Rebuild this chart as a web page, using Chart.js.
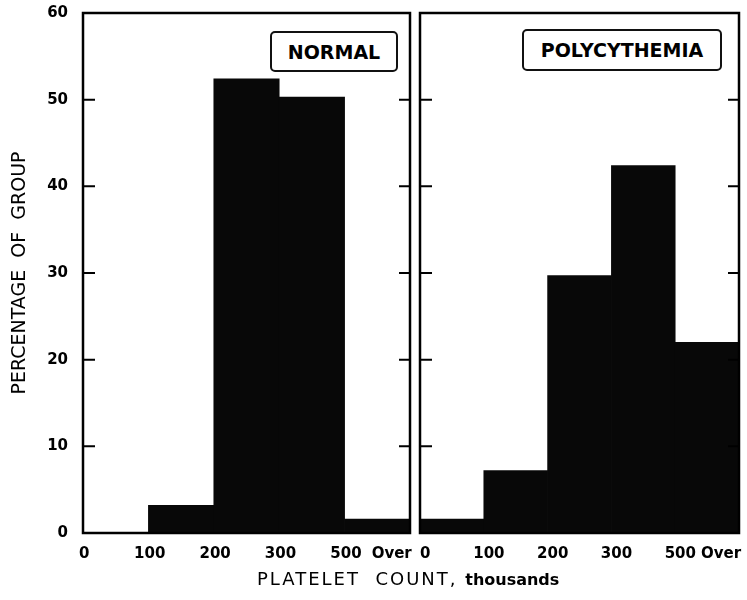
<!DOCTYPE html>
<html>
<head>
<meta charset="utf-8">
<script src="https://cdn.jsdelivr.net/npm/chart.js@4"></script>
<style>
  body { margin: 0; background: #fff; }
  #wrap { position: relative; width: 747px; height: 600px; overflow: hidden; font-family: "DejaVu Sans", sans-serif; color: #000; }
  #left { position: absolute; left: 0; top: 0; }
  #right { position: absolute; left: 400px; top: 0; }
  .tag { position: absolute; box-sizing: border-box; border: 2px solid #111; border-radius: 5px;
         display: flex; align-items: center; justify-content: center; font-size: 19px; font-weight: bold; background: #fff; }
  #tagNormal { left: 270px; top: 31px; width: 128px; height: 41px; }
  #tagPoly { left: 522px; top: 29px; width: 200px; height: 42px; }
  #xtitle { position: absolute; left: 257px; top: 568px; font-size: 18px; letter-spacing: 2px; white-space: pre; }
  #xtitle b { font-size: 16px; letter-spacing: 0; }
</style>
</head>
<body>
<div id="wrap">
  <canvas id="left" width="415" height="600"></canvas>
  <canvas id="right" width="347" height="600"></canvas>
  <div class="tag" id="tagNormal">NORMAL</div>
  <div class="tag" id="tagPoly">POLYCYTHEMIA</div>
  <div id="xtitle">PLATELET  COUNT, <b>thousands</b></div>
</div>
<script>
// platelet count bins (thousands)
const bins = ['0-100', '100-200', '200-300', '300-500', 'Over 500'];
// percentage of group per bin
const normal = [0, 3.2, 52.4, 50.3, 1.6];
const polycythemia = [1.6, 7.2, 29.7, 42.4, 22.0];
// tick labels sit on the bin edges, "Over" inside the last bin
const edgeLabels = ['0', '100', '200', '300', '500', 'Over'];
const edgePos = [0, 1, 2, 3, 4, 4.72];
const yMax = 60;
const yStep = 10;

const tickFont = { family: 'DejaVu Sans', size: 15, weight: 'bold' };

// box round each panel, with short inward ticks on both sides
const framePlugin = {
  id: 'frame',
  afterDatasetsDraw(chart) {
    const ctx = chart.ctx;
    const a = chart.chartArea;
    const y = chart.scales.y;
    ctx.save();
    ctx.strokeStyle = '#000';
    ctx.lineWidth = 2.5;
    ctx.strokeRect(a.left, a.top, a.right - a.left, a.bottom - a.top);
    ctx.lineWidth = 2;
    y.ticks.forEach(t => {
      if (t.value <= y.min || t.value >= y.max) return;
      const py = y.getPixelForValue(t.value);
      ctx.beginPath();
      ctx.moveTo(a.left, py);
      ctx.lineTo(a.left + 12, py);
      ctx.moveTo(a.right, py);
      ctx.lineTo(a.right - 11, py);
      ctx.stroke();
    });
    ctx.restore();
  }
};

function makePanel(canvasId, values, opts) {
  const ctx = document.getElementById(canvasId).getContext('2d');
  return new Chart(ctx, {
    type: 'bar',
    data: {
      labels: bins,
      datasets: [{
        data: values,
        backgroundColor: '#080808',
        borderWidth: 0,
        categoryPercentage: 1,
        barPercentage: 1
      }]
    },
    options: {
      responsive: false,
      devicePixelRatio: 1,
      animation: false,
      layout: { padding: { top: 13, right: opts.padRight, left: 0, bottom: 0 } },
      plugins: { legend: { display: false }, tooltip: { enabled: false } },
      scales: {
        x: { type: 'category', display: false },
        x2: {
          type: 'linear',
          position: 'bottom',
          offset: false,
          min: 0,
          max: bins.length,
          grid: { display: false, drawTicks: false, offset: false },
          border: { display: false },
          afterBuildTicks: s => { s.ticks = edgePos.map(v => ({ value: v < 4.5 ? v + opts.labelShift : v })); },
          ticks: {
            autoSkip: false,
            maxRotation: 0,
            padding: 12,
            color: '#000',
            font: tickFont,
            callback: (v, i) => edgeLabels[i]
          },
          afterFit: s => { s.height = 67; s.paddingLeft = 0; s.paddingRight = 0; }
        },
        y: {
          min: 0,
          max: yMax,
          grid: { display: false, drawTicks: false },
          border: { display: false },
          ticks: {
            display: opts.showY,
            stepSize: yStep,
            padding: 15,
            color: '#000',
            font: tickFont
          },
          title: {
            display: opts.showY,
            text: 'PERCENTAGE  OF  GROUP',
            color: '#000',
            font: { family: 'DejaVu Sans', size: 19 },
            padding: { top: 9, bottom: 0 }
          },
          afterFit: s => { s.width = opts.yWidth; s.paddingTop = 0; s.paddingBottom = 0; }
        }
      }
    },
    plugins: [framePlugin]
  });
}

makePanel('left', normal, { showY: true, yWidth: 83, padRight: 5, labelShift: 0.02 });
makePanel('right', polycythemia, { showY: false, yWidth: 20, padRight: 8, labelShift: 0.08 });
</script>
</body>
</html>
